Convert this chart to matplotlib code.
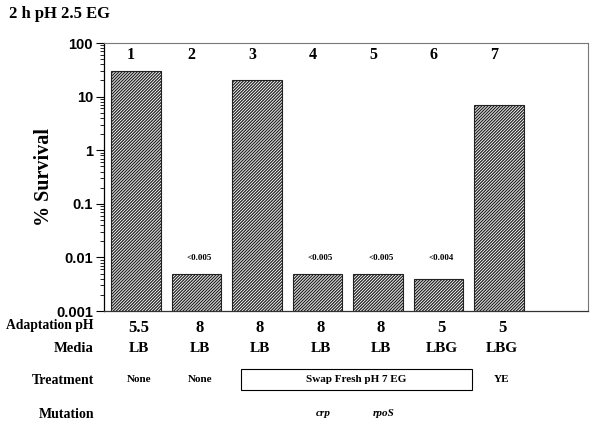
import matplotlib
matplotlib.use("Agg")
import matplotlib.pyplot as plt
from matplotlib.patches import Rectangle
from matplotlib.ticker import LogLocator, FixedLocator, NullFormatter
import matplotlib.transforms as mtransforms

# ---- data ----
bar_numbers = ["1", "2", "3", "4", "5", "6", "7"]
survival = [30, 0.005, 20, 0.005, 0.005, 0.004, 7]
limit_labels = ["", "<0.005", "", "<0.005", "<0.005", "<0.004", ""]
adaptation_ph = ["5.5", "8", "8", "8", "8", "5", "5"]
media = ["LB", "LB", "LB", "LB", "LB", "LBG", "LBG"]
treatment = ["None", "None", "", "", "", "", "YE"]
treatment_box_label = "Swap Fresh pH 7 EG"
mutation = ["", "", "", "crp", "rpoS", "", ""]
ytick_values = [0.001, 0.01, 0.1, 1, 10, 100]
ytick_labels = ["0.001", "0.01", "0.1", "1", "10", "100"]
title = "2 h pH 2.5 EG"
ylabel = "% Survival"
row_labels = ["Adaptation pH", "Media", "Treatment", "Mutation"]

W, H = 601, 428
plt.rcParams["hatch.linewidth"] = 0.9
plt.rcParams["hatch.color"] = "#222222"
fig = plt.figure(figsize=(W / 100, H / 100), dpi=100)
ax = fig.add_axes([104 / W, 1 - 311 / H, (588 - 104) / W, (311 - 43) / H])

serif = "Liberation Serif"
sans = "Liberation Sans"

x = list(range(1, len(survival) + 1))
ax.bar(x, survival, width=0.82, facecolor="white", edgecolor="#222222",
       hatch="///////////", linewidth=0.8)
ax.set_yscale("log")
ax.set_ylim(0.001, 100)
ax.set_xlim(0.47, 8.47)

ax.yaxis.set_major_locator(FixedLocator(ytick_values))
ax.set_yticklabels(ytick_labels, fontfamily=sans, fontweight="bold", fontsize=10.5)
ax.yaxis.set_minor_locator(LogLocator(base=10, subs=range(2, 10)))
ax.yaxis.set_minor_formatter(NullFormatter())
ax.tick_params(axis="y", which="major", length=6, width=0.8, direction="out", pad=2)
ax.tick_params(axis="y", which="minor", length=3, width=0.6, direction="out")
ax.set_xticks([])
for s in ["top", "right"]:
    ax.spines[s].set_color("#777777")
    ax.spines[s].set_linewidth(0.8)
ax.spines["left"].set_linewidth(0.9)
ax.spines["bottom"].set_linewidth(0.9)
ax.spines["bottom"].set_color("#333333")

ax.set_ylabel(ylabel, fontfamily=serif, fontweight="bold", fontsize=14.5)
ax.yaxis.set_label_coords(-0.103, 0.5)

# bar numbers
top_tr = mtransforms.blended_transform_factory(ax.transData, fig.transFigure)
for xi, n in zip(x, bar_numbers):
    ax.text(xi - 0.08, 1 - 55 / H, n, transform=top_tr, ha="center", va="center",
            fontfamily=serif, fontweight="bold", fontsize=11.5)

# limit labels
for xi, lab in zip(x, limit_labels):
    if lab:
        ax.text(xi + 0.05, 0.0098, lab, ha="center", va="center",
                fontfamily=serif, fontweight="bold", fontsize=6.5)

# title
fig.text(9 / W, 1 - 14 / H, title, ha="left", va="center",
         fontfamily=serif, fontweight="bold", fontsize=12)

# row labels
row_y = [326, 348, 380, 414]
row_fs = [9.8, 10.5, 10, 10]
for lab, yy, fs in zip(row_labels, row_y, row_fs):
    fig.text(94 / W, 1 - yy / H, lab, ha="right", va="center",
             fontfamily=serif, fontweight="bold", fontsize=fs)

for xi, v in zip(x, adaptation_ph):
    ax.text(xi + 0.05, 1 - 328 / H, v, transform=top_tr, ha="center", va="center",
            fontfamily=serif, fontweight="bold", fontsize=12)
for xi, v in zip(x, media):
    ax.text(xi + 0.05, 1 - 349 / H, v, transform=top_tr, ha="center", va="center",
            fontfamily=serif, fontweight="bold", fontsize=11)
for xi, v in zip(x, treatment):
    if v:
        ax.text(xi + 0.05, 1 - 379 / H, v, transform=top_tr, ha="center", va="center",
                fontfamily=serif, fontweight="bold", fontsize=8)
for xi, v in zip(x, mutation):
    if v:
        ax.text(xi + 0.1, 1 - 414 / H, v, transform=top_tr, ha="center", va="center",
                fontfamily=serif, fontweight="bold", fontstyle="italic", fontsize=8)

# treatment box spanning bars 3-6
x0, x1 = 2.74, 6.55
y0, y1 = 1 - 390 / H, 1 - 369 / H
rect = Rectangle((x0, y0), x1 - x0, y1 - y0, transform=top_tr, fill=False,
                 edgecolor="black", linewidth=0.8, clip_on=False)
ax.add_patch(rect)
ax.text((x0 + x1) / 2, (y0 + y1) / 2, treatment_box_label, transform=top_tr,
        ha="center", va="center", fontfamily=serif, fontweight="bold", fontsize=8)

fig.savefig("out.png", dpi=100)
